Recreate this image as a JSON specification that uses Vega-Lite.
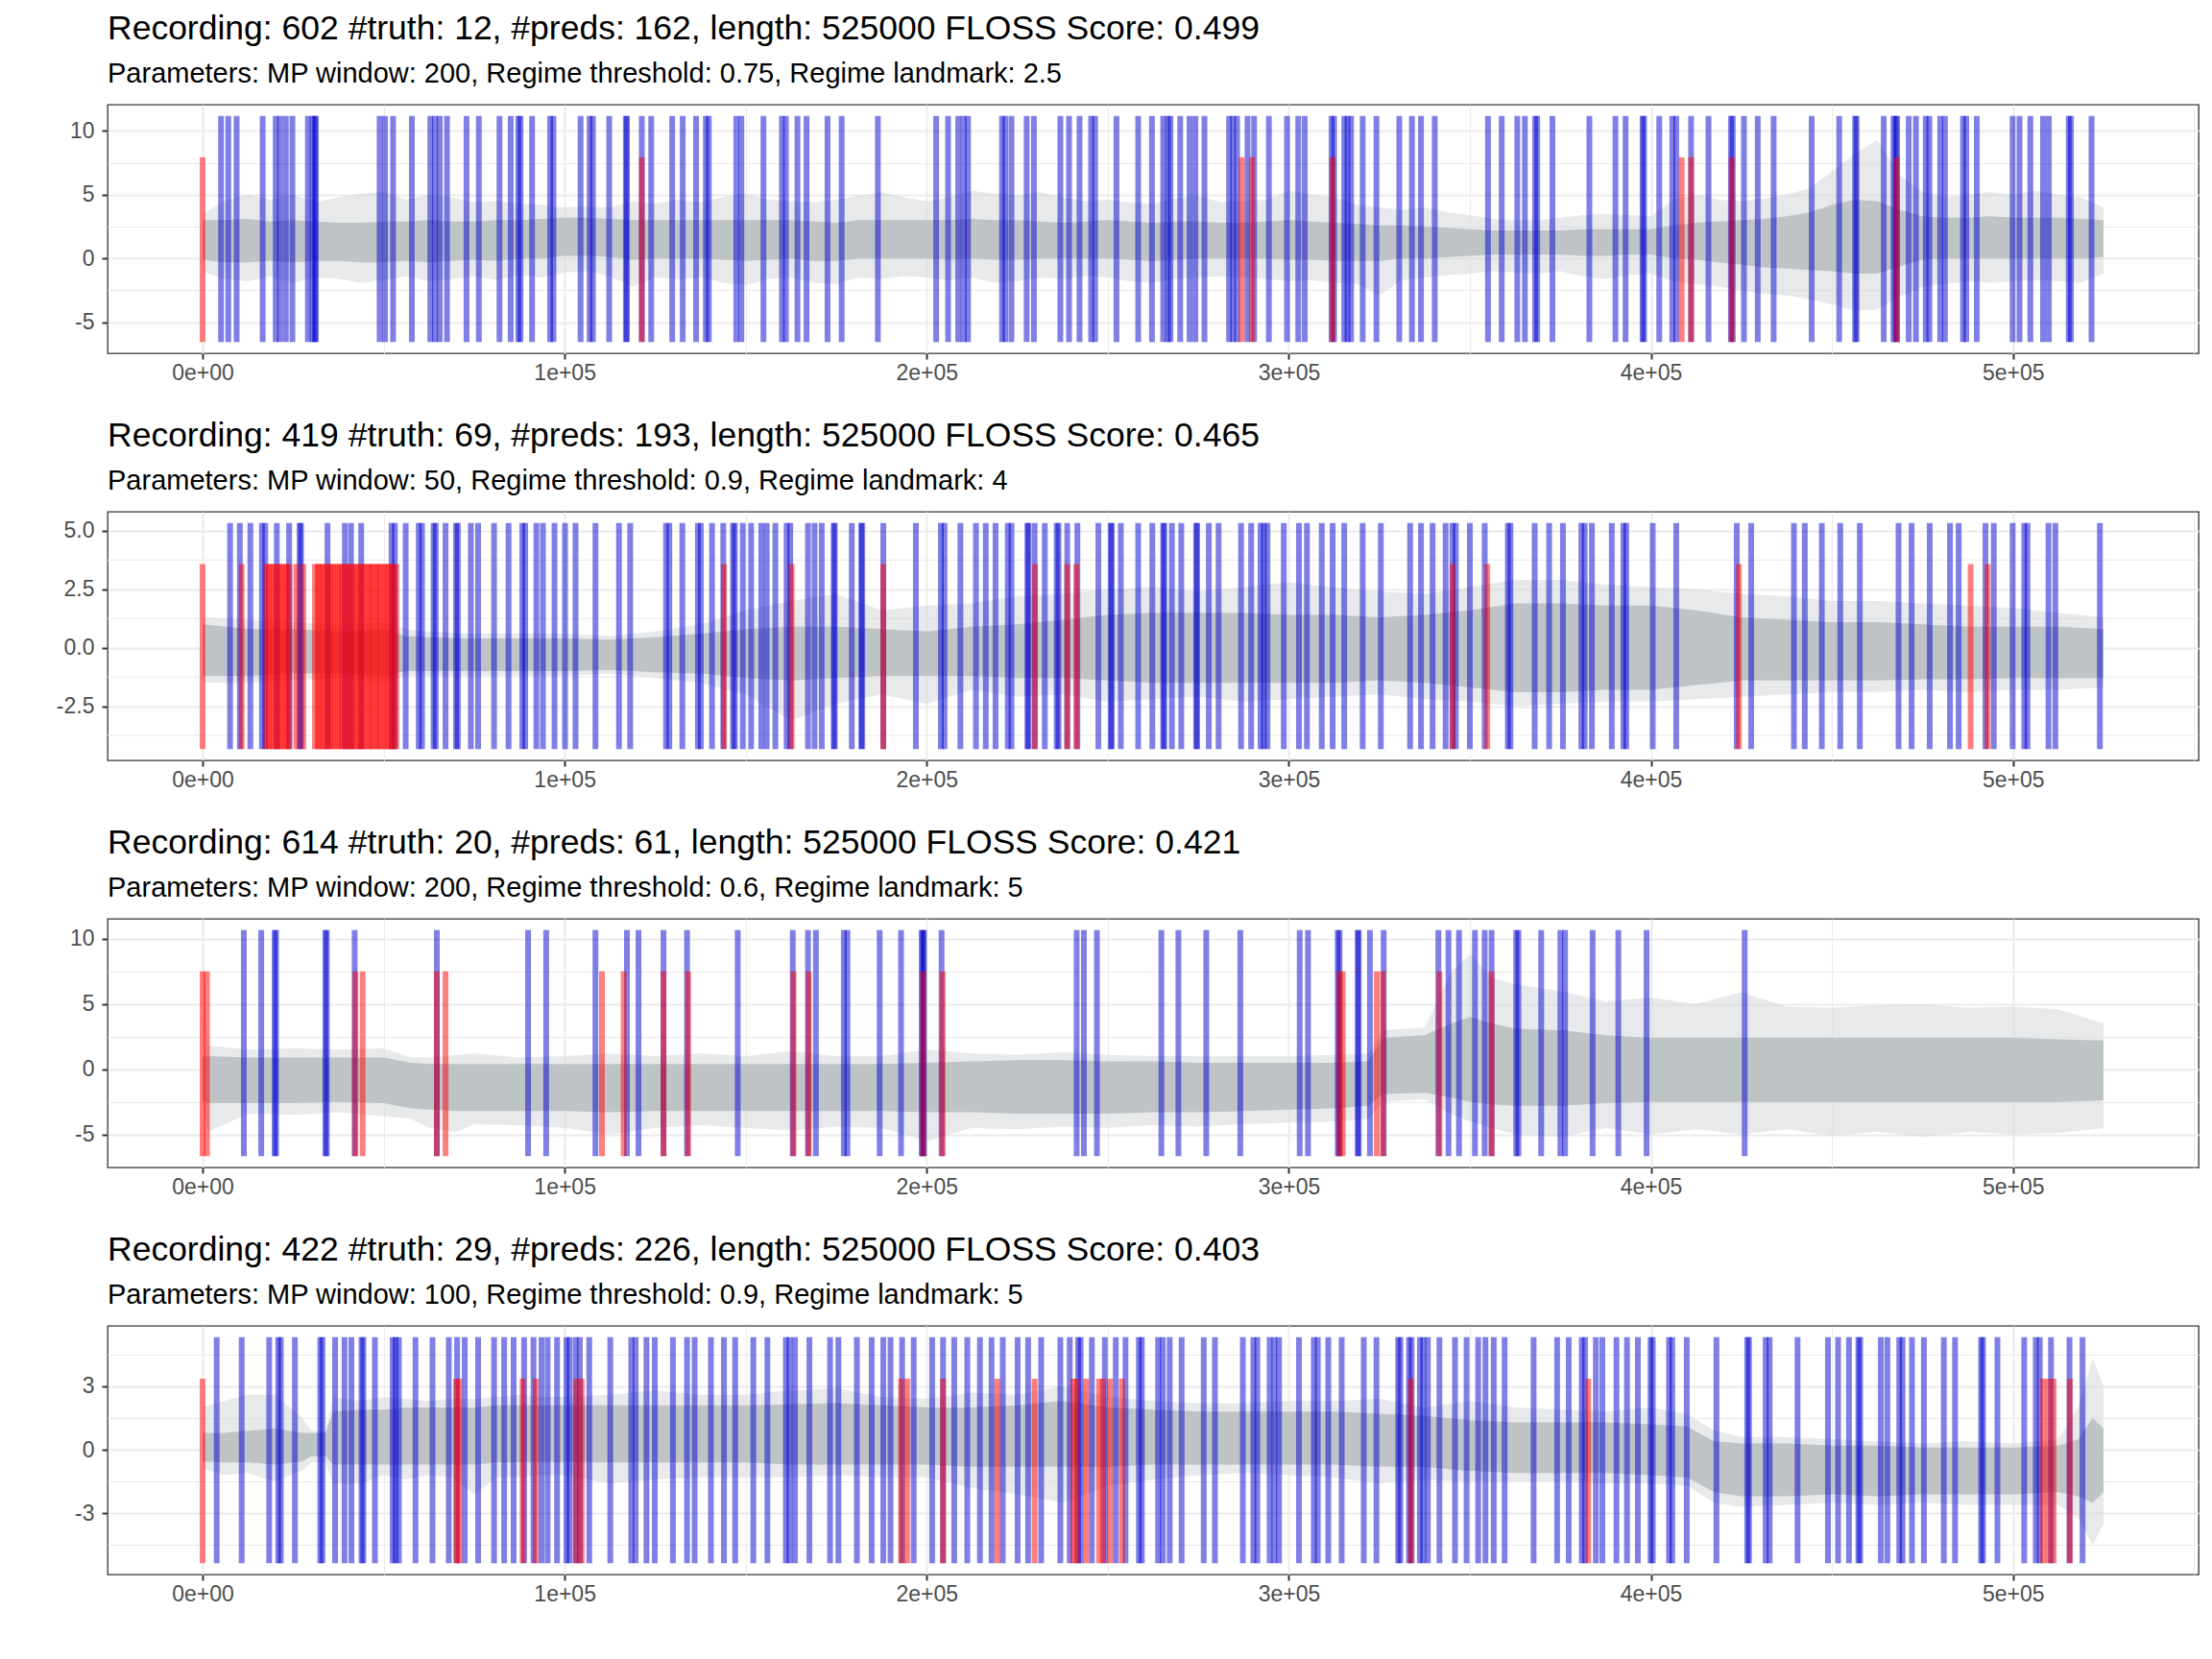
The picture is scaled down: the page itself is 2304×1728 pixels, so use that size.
{
"$schema": "https://vega.github.io/schema/vega-lite/v6.json",
"background": "white",
"padding": {"left": 57, "top": 11, "right": 14, "bottom": 10},
"spacing": 33,
"config": {
  "font": "Liberation Sans",
  "view": {"stroke": "#333333", "strokeWidth": 1.3},
  "axis": {"domain": false, "labelOverlap": false, "gridColor": "#EBEBEB", "tickColor": "#333333", "tickSize": 6, "tickWidth": 2, "labelColor": "#4D4D4D", "labelFont": "Liberation Sans", "labelFontSize": 23},
  "axisX": {"labelPadding": 3.5},
  "axisY": {"labelPadding": 8},
  "title": {"anchor": "start", "frame": "group", "font": "Liberation Sans", "fontSize": 35.5, "fontWeight": "normal", "color": "black", "subtitleFont": "Liberation Sans", "subtitleFontSize": 29, "subtitleColor": "black", "subtitlePadding": 14.5, "offset": 17.5}
},
"datasets": {
"minor2": [{"y":-3.75},{"y":-1.25},{"y":1.25},{"y":3.75}],
"sig1": [
{"x":0,"lo":-1.0,"ilo":-0.1,"ihi":3.0,"hi":3.5},{"x":6000,"lo":-1.6,"ilo":-0.3,"ihi":3.0,"hi":4.5},{"x":12500,"lo":-1.8,"ilo":-0.3,"ihi":3.1,"hi":5.0},{"x":18750,"lo":-1.4,"ilo":-0.2,"ihi":2.9,"hi":4.6},{"x":25000,"lo":-1.9,"ilo":-0.3,"ihi":3.0,"hi":5.0},{"x":31250,"lo":-1.5,"ilo":-0.2,"ihi":2.9,"hi":4.4},{"x":37500,"lo":-1.6,"ilo":-0.2,"ihi":2.8,"hi":4.8},{"x":43750,"lo":-1.9,"ilo":-0.3,"ihi":2.8,"hi":5.1},{"x":50000,"lo":-1.7,"ilo":-0.3,"ihi":2.9,"hi":5.2},{"x":56250,"lo":-1.4,"ilo":-0.2,"ihi":2.9,"hi":4.6},{"x":62500,"lo":-1.8,"ilo":-0.3,"ihi":3.0,"hi":5.0},{"x":68750,"lo":-1.6,"ilo":-0.2,"ihi":2.9,"hi":4.8},{"x":75000,"lo":-1.4,"ilo":-0.1,"ihi":2.9,"hi":4.4},{"x":81250,"lo":-1.7,"ilo":-0.2,"ihi":3.0,"hi":4.5},{"x":87500,"lo":-1.3,"ilo":0.0,"ihi":3.0,"hi":4.3},{"x":93750,"lo":-1.5,"ilo":0.0,"ihi":3.1,"hi":4.2},{"x":100000,"lo":-1.1,"ilo":0.2,"ihi":3.2,"hi":4.0},{"x":106250,"lo":-1.0,"ilo":0.2,"ihi":3.2,"hi":4.1},{"x":112500,"lo":-1.4,"ilo":0.1,"ihi":3.1,"hi":4.0},{"x":118750,"lo":-2.2,"ilo":-0.1,"ihi":3.0,"hi":4.5},{"x":125000,"lo":-1.5,"ilo":0.0,"ihi":3.0,"hi":4.3},{"x":131250,"lo":-1.6,"ilo":0.0,"ihi":3.0,"hi":4.6},{"x":137500,"lo":-1.5,"ilo":0.0,"ihi":3.0,"hi":4.4},{"x":143750,"lo":-1.9,"ilo":-0.1,"ihi":3.0,"hi":4.8},{"x":150000,"lo":-2.1,"ilo":-0.2,"ihi":3.0,"hi":5.1},{"x":156250,"lo":-1.6,"ilo":-0.1,"ihi":3.0,"hi":4.6},{"x":162500,"lo":-1.5,"ilo":0.0,"ihi":3.0,"hi":4.5},{"x":168750,"lo":-1.9,"ilo":-0.2,"ihi":2.9,"hi":4.4},{"x":175000,"lo":-2.0,"ilo":-0.2,"ihi":2.8,"hi":4.6},{"x":181250,"lo":-1.5,"ilo":0.0,"ihi":3.0,"hi":4.9},{"x":187500,"lo":-1.6,"ilo":0.0,"ihi":3.0,"hi":5.2},{"x":193750,"lo":-1.4,"ilo":0.0,"ihi":3.0,"hi":4.8},{"x":200000,"lo":-1.5,"ilo":0.0,"ihi":3.0,"hi":4.5},{"x":206250,"lo":-1.7,"ilo":-0.1,"ihi":3.0,"hi":4.8},{"x":212500,"lo":-1.5,"ilo":0.0,"ihi":3.1,"hi":5.3},{"x":218750,"lo":-1.9,"ilo":-0.1,"ihi":3.0,"hi":5.1},{"x":225000,"lo":-1.8,"ilo":-0.1,"ihi":3.0,"hi":4.9},{"x":231250,"lo":-1.5,"ilo":0.0,"ihi":2.9,"hi":5.2},{"x":237500,"lo":-1.6,"ilo":0.0,"ihi":2.8,"hi":4.8},{"x":243750,"lo":-1.4,"ilo":0.0,"ihi":2.9,"hi":4.5},{"x":250000,"lo":-1.5,"ilo":0.0,"ihi":3.0,"hi":4.6},{"x":256250,"lo":-1.8,"ilo":-0.1,"ihi":2.9,"hi":4.4},{"x":262500,"lo":-1.9,"ilo":-0.2,"ihi":2.8,"hi":4.3},{"x":268750,"lo":-1.6,"ilo":-0.1,"ihi":2.9,"hi":4.7},{"x":275000,"lo":-1.5,"ilo":0.0,"ihi":2.9,"hi":4.9},{"x":281250,"lo":-1.4,"ilo":0.0,"ihi":2.8,"hi":4.4},{"x":287500,"lo":-1.5,"ilo":0.0,"ihi":2.8,"hi":4.5},{"x":293750,"lo":-1.6,"ilo":0.0,"ihi":2.9,"hi":4.6},{"x":300000,"lo":-1.8,"ilo":-0.1,"ihi":3.0,"hi":5.3},{"x":306250,"lo":-1.7,"ilo":-0.1,"ihi":2.9,"hi":5.0},{"x":312500,"lo":-1.9,"ilo":-0.2,"ihi":2.8,"hi":4.8},{"x":318750,"lo":-2.0,"ilo":-0.2,"ihi":2.7,"hi":4.2},{"x":325000,"lo":-2.9,"ilo":-0.2,"ihi":2.6,"hi":4.0},{"x":331250,"lo":-1.7,"ilo":0.0,"ihi":2.6,"hi":3.8},{"x":337500,"lo":-1.5,"ilo":0.0,"ihi":2.5,"hi":4.0},{"x":343750,"lo":-1.3,"ilo":0.1,"ihi":2.4,"hi":3.6},{"x":350000,"lo":-1.2,"ilo":0.2,"ihi":2.3,"hi":3.4},{"x":356250,"lo":-1.0,"ilo":0.3,"ihi":2.2,"hi":3.1},{"x":362500,"lo":-1.1,"ilo":0.3,"ihi":2.2,"hi":3.0},{"x":368750,"lo":-1.2,"ilo":0.3,"ihi":2.2,"hi":3.0},{"x":375000,"lo":-1.0,"ilo":0.3,"ihi":2.2,"hi":3.2},{"x":381250,"lo":-1.4,"ilo":0.2,"ihi":2.3,"hi":3.4},{"x":387500,"lo":-1.6,"ilo":0.2,"ihi":2.3,"hi":3.5},{"x":393750,"lo":-1.3,"ilo":0.3,"ihi":2.3,"hi":3.4},{"x":400000,"lo":-1.2,"ilo":0.3,"ihi":2.3,"hi":3.3},{"x":406250,"lo":-1.8,"ilo":0.0,"ihi":2.6,"hi":4.6},{"x":412500,"lo":-2.0,"ilo":-0.1,"ihi":2.8,"hi":5.0},{"x":418750,"lo":-2.2,"ilo":-0.3,"ihi":2.9,"hi":4.6},{"x":425000,"lo":-2.5,"ilo":-0.5,"ihi":3.0,"hi":4.5},{"x":431250,"lo":-2.8,"ilo":-0.7,"ihi":3.1,"hi":4.7},{"x":437500,"lo":-2.9,"ilo":-0.8,"ihi":3.3,"hi":5.0},{"x":443750,"lo":-3.2,"ilo":-0.9,"ihi":3.6,"hi":5.5},{"x":450000,"lo":-3.6,"ilo":-1.0,"ihi":4.2,"hi":6.8},{"x":456250,"lo":-4.1,"ilo":-1.2,"ihi":4.6,"hi":8.2},{"x":462500,"lo":-4.0,"ilo":-1.2,"ihi":4.5,"hi":9.3},{"x":468750,"lo":-3.0,"ilo":-0.6,"ihi":3.8,"hi":6.5},{"x":475000,"lo":-2.2,"ilo":-0.1,"ihi":3.3,"hi":5.2},{"x":481250,"lo":-2.0,"ilo":0.0,"ihi":3.2,"hi":4.8},{"x":487500,"lo":-1.8,"ilo":0.0,"ihi":3.2,"hi":5.0},{"x":493750,"lo":-1.9,"ilo":0.0,"ihi":3.3,"hi":5.2},{"x":500000,"lo":-1.8,"ilo":0.0,"ihi":3.2,"hi":5.0},{"x":506250,"lo":-1.7,"ilo":0.0,"ihi":3.2,"hi":5.3},{"x":512500,"lo":-1.8,"ilo":0.0,"ihi":3.2,"hi":5.0},{"x":518750,"lo":-1.9,"ilo":0.0,"ihi":3.1,"hi":4.8},{"x":525000,"lo":-1.2,"ilo":0.1,"ihi":3.0,"hi":4.0}
],
"sig2": [
{"x":0,"lo":-1.5,"ilo":-1.2,"ihi":1.0,"hi":1.3},{"x":12500,"lo":-1.5,"ilo":-1.2,"ihi":0.8,"hi":1.2},{"x":25000,"lo":-1.4,"ilo":-1.1,"ihi":0.8,"hi":1.1},{"x":37500,"lo":-1.3,"ilo":-1.1,"ihi":0.7,"hi":1.0},{"x":50000,"lo":-1.5,"ilo":-1.2,"ihi":0.8,"hi":1.1},{"x":56000,"lo":-1.2,"ilo":-1.0,"ihi":0.5,"hi":0.8},{"x":62500,"lo":-1.2,"ilo":-1.0,"ihi":0.45,"hi":0.7},{"x":75000,"lo":-1.2,"ilo":-1.0,"ihi":0.4,"hi":0.6},{"x":87500,"lo":-1.2,"ilo":-1.0,"ihi":0.4,"hi":0.6},{"x":100000,"lo":-1.2,"ilo":-1.0,"ihi":0.4,"hi":0.6},{"x":112500,"lo":-1.1,"ilo":-0.95,"ihi":0.35,"hi":0.5},{"x":125000,"lo":-1.3,"ilo":-1.05,"ihi":0.45,"hi":0.7},{"x":137500,"lo":-1.5,"ilo":-1.1,"ihi":0.6,"hi":1.0},{"x":150000,"lo":-2.0,"ilo":-1.3,"ihi":0.8,"hi":1.6},{"x":162500,"lo":-3.1,"ilo":-1.4,"ihi":0.9,"hi":2.0},{"x":175000,"lo":-2.4,"ilo":-1.3,"ihi":0.9,"hi":2.3},{"x":187500,"lo":-2.0,"ilo":-1.2,"ihi":0.8,"hi":1.6},{"x":200000,"lo":-2.4,"ilo":-1.2,"ihi":0.7,"hi":1.8},{"x":212500,"lo":-1.8,"ilo":-1.2,"ihi":0.9,"hi":1.9},{"x":225000,"lo":-2.1,"ilo":-1.3,"ihi":1.0,"hi":2.2},{"x":237500,"lo":-2.0,"ilo":-1.3,"ihi":1.2,"hi":2.3},{"x":250000,"lo":-2.3,"ilo":-1.4,"ihi":1.4,"hi":2.5},{"x":262500,"lo":-2.2,"ilo":-1.5,"ihi":1.5,"hi":2.6},{"x":275000,"lo":-2.1,"ilo":-1.5,"ihi":1.5,"hi":2.4},{"x":287500,"lo":-2.3,"ilo":-1.5,"ihi":1.5,"hi":2.6},{"x":300000,"lo":-2.2,"ilo":-1.5,"ihi":1.4,"hi":2.8},{"x":312500,"lo":-2.1,"ilo":-1.5,"ihi":1.4,"hi":2.6},{"x":325000,"lo":-2.0,"ilo":-1.4,"ihi":1.3,"hi":2.4},{"x":337500,"lo":-2.2,"ilo":-1.5,"ihi":1.4,"hi":2.3},{"x":350000,"lo":-2.3,"ilo":-1.7,"ihi":1.6,"hi":2.6},{"x":362500,"lo":-2.5,"ilo":-1.9,"ihi":1.9,"hi":2.9},{"x":375000,"lo":-2.4,"ilo":-1.9,"ihi":1.9,"hi":2.9},{"x":387500,"lo":-2.3,"ilo":-1.8,"ihi":1.8,"hi":2.7},{"x":400000,"lo":-2.3,"ilo":-1.8,"ihi":1.8,"hi":2.6},{"x":412500,"lo":-2.2,"ilo":-1.6,"ihi":1.6,"hi":2.5},{"x":425000,"lo":-2.1,"ilo":-1.4,"ihi":1.3,"hi":2.3},{"x":437500,"lo":-2.0,"ilo":-1.4,"ihi":1.2,"hi":2.2},{"x":450000,"lo":-1.9,"ilo":-1.4,"ihi":1.1,"hi":2.0},{"x":462500,"lo":-1.9,"ilo":-1.4,"ihi":1.1,"hi":2.0},{"x":475000,"lo":-1.8,"ilo":-1.35,"ihi":1.0,"hi":1.9},{"x":487500,"lo":-1.9,"ilo":-1.35,"ihi":0.9,"hi":1.8},{"x":500000,"lo":-1.8,"ilo":-1.3,"ihi":0.9,"hi":1.7},{"x":512500,"lo":-1.8,"ilo":-1.3,"ihi":0.9,"hi":1.5},{"x":525000,"lo":-1.7,"ilo":-1.3,"ihi":0.8,"hi":1.3}
],
"sig3": [
{"x":0,"lo":-2.5,"ilo":-2.4,"ihi":0.9,"hi":9.0},{"x":1500,"lo":-4.8,"ilo":-2.6,"ihi":1.0,"hi":1.8},{"x":12500,"lo":-3.4,"ilo":-2.6,"ihi":0.9,"hi":1.5},{"x":25000,"lo":-3.5,"ilo":-2.6,"ihi":0.9,"hi":1.6},{"x":37500,"lo":-3.3,"ilo":-2.5,"ihi":0.9,"hi":1.5},{"x":50000,"lo":-3.6,"ilo":-2.6,"ihi":0.9,"hi":1.6},{"x":57500,"lo":-3.8,"ilo":-3.0,"ihi":0.5,"hi":0.9},{"x":62500,"lo":-4.5,"ilo":-3.1,"ihi":0.4,"hi":0.9},{"x":70000,"lo":-4.8,"ilo":-3.2,"ihi":0.4,"hi":1.1},{"x":75000,"lo":-4.2,"ilo":-3.2,"ihi":0.4,"hi":1.2},{"x":87500,"lo":-4.3,"ilo":-3.2,"ihi":0.4,"hi":0.9},{"x":100000,"lo":-4.5,"ilo":-3.2,"ihi":0.4,"hi":1.0},{"x":112500,"lo":-5.0,"ilo":-3.3,"ihi":0.4,"hi":1.2},{"x":125000,"lo":-4.5,"ilo":-3.2,"ihi":0.4,"hi":1.0},{"x":137500,"lo":-4.3,"ilo":-3.2,"ihi":0.4,"hi":1.2},{"x":150000,"lo":-4.5,"ilo":-3.2,"ihi":0.4,"hi":1.0},{"x":162500,"lo":-4.7,"ilo":-3.2,"ihi":0.4,"hi":1.4},{"x":175000,"lo":-4.4,"ilo":-3.2,"ihi":0.4,"hi":1.0},{"x":187500,"lo":-4.5,"ilo":-3.2,"ihi":0.4,"hi":1.0},{"x":200000,"lo":-5.5,"ilo":-3.3,"ihi":0.5,"hi":1.5},{"x":212500,"lo":-4.5,"ilo":-3.3,"ihi":0.6,"hi":1.2},{"x":225000,"lo":-4.6,"ilo":-3.4,"ihi":0.7,"hi":1.1},{"x":237500,"lo":-4.4,"ilo":-3.4,"ihi":0.7,"hi":1.3},{"x":250000,"lo":-4.5,"ilo":-3.4,"ihi":0.6,"hi":1.1},{"x":262500,"lo":-4.3,"ilo":-3.3,"ihi":0.6,"hi":1.0},{"x":275000,"lo":-4.4,"ilo":-3.3,"ihi":0.5,"hi":1.0},{"x":287500,"lo":-4.2,"ilo":-3.2,"ihi":0.5,"hi":1.0},{"x":300000,"lo":-4.1,"ilo":-3.1,"ihi":0.5,"hi":1.0},{"x":312500,"lo":-4.0,"ilo":-3.0,"ihi":0.5,"hi":1.1},{"x":322000,"lo":-3.8,"ilo":-2.8,"ihi":0.6,"hi":1.2},{"x":326000,"lo":-2.5,"ilo":-1.9,"ihi":2.4,"hi":3.0},{"x":337500,"lo":-2.3,"ilo":-1.8,"ihi":2.6,"hi":3.2},{"x":345000,"lo":-3.5,"ilo":-2.2,"ihi":3.5,"hi":7.5},{"x":350000,"lo":-4.0,"ilo":-2.5,"ihi":4.0,"hi":8.8},{"x":356000,"lo":-4.5,"ilo":-2.7,"ihi":3.5,"hi":7.0},{"x":362500,"lo":-5.0,"ilo":-2.8,"ihi":3.1,"hi":6.5},{"x":375000,"lo":-5.2,"ilo":-2.8,"ihi":3.0,"hi":6.0},{"x":387500,"lo":-4.5,"ilo":-2.6,"ihi":2.6,"hi":5.2},{"x":400000,"lo":-5.0,"ilo":-2.5,"ihi":2.4,"hi":5.5},{"x":412500,"lo":-4.6,"ilo":-2.5,"ihi":2.4,"hi":5.0},{"x":425000,"lo":-5.0,"ilo":-2.5,"ihi":2.4,"hi":5.9},{"x":437500,"lo":-4.6,"ilo":-2.5,"ihi":2.4,"hi":4.8},{"x":450000,"lo":-5.1,"ilo":-2.5,"ihi":2.4,"hi":4.7},{"x":462500,"lo":-4.8,"ilo":-2.5,"ihi":2.4,"hi":4.9},{"x":475000,"lo":-5.2,"ilo":-2.5,"ihi":2.4,"hi":5.0},{"x":487500,"lo":-4.8,"ilo":-2.5,"ihi":2.4,"hi":4.7},{"x":500000,"lo":-5.0,"ilo":-2.5,"ihi":2.4,"hi":4.8},{"x":512500,"lo":-4.9,"ilo":-2.5,"ihi":2.3,"hi":4.6},{"x":525000,"lo":-4.5,"ilo":-2.4,"ihi":2.2,"hi":3.5}
],
"sig4": [
{"x":0,"lo":-0.9,"ilo":-0.55,"ihi":0.8,"hi":2.0},{"x":6000,"lo":-1.2,"ilo":-0.6,"ihi":0.8,"hi":2.3},{"x":12500,"lo":-1.1,"ilo":-0.6,"ihi":0.9,"hi":2.6},{"x":20000,"lo":-1.5,"ilo":-0.7,"ihi":1.0,"hi":2.6},{"x":27500,"lo":-1.0,"ilo":-0.55,"ihi":0.8,"hi":1.5},{"x":30000,"lo":-0.6,"ilo":-0.3,"ihi":0.8,"hi":0.9},{"x":34000,"lo":-0.6,"ilo":-0.3,"ihi":0.8,"hi":0.9},{"x":36000,"lo":-1.6,"ilo":-0.7,"ihi":1.8,"hi":2.5},{"x":43750,"lo":-1.6,"ilo":-0.7,"ihi":1.9,"hi":2.3},{"x":50000,"lo":-1.2,"ilo":-0.7,"ihi":1.9,"hi":2.5},{"x":56250,"lo":-1.4,"ilo":-0.7,"ihi":2.0,"hi":2.4},{"x":62500,"lo":-1.2,"ilo":-0.7,"ihi":2.0,"hi":2.3},{"x":68750,"lo":-1.3,"ilo":-0.7,"ihi":2.0,"hi":2.4},{"x":75000,"lo":-2.1,"ilo":-0.7,"ihi":2.0,"hi":2.4},{"x":81250,"lo":-1.3,"ilo":-0.6,"ihi":2.1,"hi":2.5},{"x":87500,"lo":-1.3,"ilo":-0.6,"ihi":2.1,"hi":2.6},{"x":93750,"lo":-1.2,"ilo":-0.6,"ihi":2.1,"hi":2.5},{"x":100000,"lo":-1.2,"ilo":-0.6,"ihi":2.1,"hi":2.5},{"x":112500,"lo":-1.6,"ilo":-0.6,"ihi":2.1,"hi":2.6},{"x":125000,"lo":-1.4,"ilo":-0.6,"ihi":2.1,"hi":2.8},{"x":137500,"lo":-1.3,"ilo":-0.6,"ihi":2.1,"hi":2.6},{"x":150000,"lo":-1.3,"ilo":-0.6,"ihi":2.1,"hi":2.6},{"x":162500,"lo":-1.3,"ilo":-0.7,"ihi":2.15,"hi":2.8},{"x":175000,"lo":-1.2,"ilo":-0.7,"ihi":2.2,"hi":2.9},{"x":187500,"lo":-1.3,"ilo":-0.7,"ihi":2.1,"hi":2.5},{"x":200000,"lo":-1.3,"ilo":-0.7,"ihi":2.0,"hi":2.4},{"x":212500,"lo":-1.8,"ilo":-0.8,"ihi":2.0,"hi":2.7},{"x":225000,"lo":-2.1,"ilo":-0.8,"ihi":2.1,"hi":2.6},{"x":237500,"lo":-2.5,"ilo":-0.8,"ihi":2.3,"hi":3.0},{"x":250000,"lo":-1.7,"ilo":-0.8,"ihi":2.0,"hi":2.5},{"x":262500,"lo":-1.4,"ilo":-0.7,"ihi":1.9,"hi":2.3},{"x":275000,"lo":-1.2,"ilo":-0.7,"ihi":1.8,"hi":2.2},{"x":287500,"lo":-1.1,"ilo":-0.7,"ihi":1.8,"hi":2.2},{"x":300000,"lo":-1.2,"ilo":-0.7,"ihi":1.8,"hi":2.3},{"x":312500,"lo":-1.3,"ilo":-0.7,"ihi":1.8,"hi":2.3},{"x":325000,"lo":-1.6,"ilo":-0.8,"ihi":1.7,"hi":2.4},{"x":337500,"lo":-1.4,"ilo":-0.8,"ihi":1.6,"hi":2.0},{"x":350000,"lo":-1.5,"ilo":-1.0,"ihi":1.4,"hi":2.3},{"x":362500,"lo":-1.5,"ilo":-1.1,"ihi":1.3,"hi":2.0},{"x":375000,"lo":-1.5,"ilo":-1.1,"ihi":1.3,"hi":1.9},{"x":387500,"lo":-1.6,"ilo":-1.1,"ihi":1.3,"hi":1.8},{"x":400000,"lo":-1.6,"ilo":-1.2,"ihi":1.2,"hi":2.0},{"x":410000,"lo":-1.7,"ilo":-1.3,"ihi":1.1,"hi":1.7},{"x":417500,"lo":-2.5,"ilo":-2.0,"ihi":0.4,"hi":0.9},{"x":425000,"lo":-2.7,"ilo":-2.2,"ihi":0.3,"hi":0.6},{"x":437500,"lo":-2.6,"ilo":-2.2,"ihi":0.3,"hi":0.6},{"x":450000,"lo":-2.5,"ilo":-2.1,"ihi":0.2,"hi":0.5},{"x":462500,"lo":-2.6,"ilo":-2.2,"ihi":0.2,"hi":0.4},{"x":475000,"lo":-2.5,"ilo":-2.1,"ihi":0.1,"hi":0.3},{"x":487500,"lo":-2.6,"ilo":-2.1,"ihi":0.1,"hi":0.4},{"x":500000,"lo":-2.6,"ilo":-2.1,"ihi":0.1,"hi":0.3},{"x":512500,"lo":-2.6,"ilo":-2.0,"ihi":0.2,"hi":0.5},{"x":518000,"lo":-3.2,"ilo":-2.2,"ihi":0.5,"hi":2.0},{"x":522000,"lo":-4.5,"ilo":-2.5,"ihi":1.5,"hi":4.3},{"x":525000,"lo":-3.5,"ilo":-2.0,"ihi":1.0,"hi":3.0}
],
"pred1": [{"x":5100},{"x":7100},{"x":9400},{"x":16600},{"x":20200},{"x":21400},{"x":23000},{"x":24800},{"x":29100},{"x":30400},{"x":31000},{"x":31300},{"x":48900},{"x":50400},{"x":52600},{"x":57800},{"x":62900},{"x":64200},{"x":65500},{"x":67500},{"x":72900},{"x":76300},{"x":82000},{"x":85100},{"x":87200},{"x":87800},{"x":91000},{"x":96000},{"x":96900},{"x":104400},{"x":106900},{"x":107800},{"x":112300},{"x":116900},{"x":117200},{"x":121300},{"x":123900},{"x":129700},{"x":132600},{"x":136300},{"x":139000},{"x":139800},{"x":147400},{"x":148800},{"x":154900},{"x":160000},{"x":161100},{"x":164300},{"x":166800},{"x":172600},{"x":176500},{"x":186500},{"x":202600},{"x":205900},{"x":208700},{"x":210200},{"x":211400},{"x":220800},{"x":221700},{"x":223400},{"x":227600},{"x":229600},{"x":236900},{"x":239300},{"x":242200},{"x":245400},{"x":246500},{"x":252400},{"x":258400},{"x":262200},{"x":265300},{"x":266600},{"x":267300},{"x":270000},{"x":272600},{"x":274200},{"x":276700},{"x":283500},{"x":284600},{"x":285700},{"x":288600},{"x":290400},{"x":294500},{"x":299500},{"x":302600},{"x":304400},{"x":311800},{"x":312500},{"x":315300},{"x":316200},{"x":317200},{"x":320400},{"x":324200},{"x":330500},{"x":334000},{"x":336500},{"x":340300},{"x":355000},{"x":358800},{"x":363100},{"x":365200},{"x":368000},{"x":368600},{"x":372800},{"x":383000},{"x":390200},{"x":393000},{"x":397700},{"x":398100},{"x":402300},{"x":405900},{"x":407000},{"x":411100},{"x":415900},{"x":422100},{"x":422600},{"x":425700},{"x":429500},{"x":433900},{"x":444400},{"x":452000},{"x":456400},{"x":456800},{"x":464300},{"x":467000},{"x":467600},{"x":468000},{"x":471200},{"x":473200},{"x":475900},{"x":476900},{"x":479900},{"x":481200},{"x":486200},{"x":487100},{"x":490000},{"x":499900},{"x":501800},{"x":504800},{"x":508300},{"x":509900},{"x":515400},{"x":516000},{"x":521700}],
"truth1": [{"x":0},{"x":121300},{"x":287000},{"x":289800},{"x":312100},{"x":408500},{"x":411100},{"x":422300},{"x":467900}],
"pred2": [{"x":7600},{"x":10300},{"x":13200},{"x":16400},{"x":17300},{"x":20500},{"x":23900},{"x":26800},{"x":27200},{"x":34500},{"x":39300},{"x":41000},{"x":43800},{"x":52200},{"x":53100},{"x":56100},{"x":59700},{"x":60600},{"x":63800},{"x":64400},{"x":67100},{"x":70000},{"x":70500},{"x":74100},{"x":76100},{"x":80500},{"x":84500},{"x":88300},{"x":89100},{"x":92200},{"x":94000},{"x":97200},{"x":100100},{"x":103000},{"x":108500},{"x":115000},{"x":118100},{"x":128000},{"x":128900},{"x":132500},{"x":136800},{"x":137600},{"x":140700},{"x":143800},{"x":146500},{"x":147000},{"x":149200},{"x":151500},{"x":154300},{"x":155800},{"x":158200},{"x":161300},{"x":162300},{"x":167200},{"x":169000},{"x":171000},{"x":174300},{"x":174600},{"x":179300},{"x":181900},{"x":182200},{"x":188000},{"x":197000},{"x":203900},{"x":204900},{"x":209300},{"x":213600},{"x":216300},{"x":219000},{"x":222400},{"x":223400},{"x":227800},{"x":228100},{"x":229800},{"x":232600},{"x":235900},{"x":236400},{"x":238800},{"x":241600},{"x":247400},{"x":250800},{"x":251100},{"x":253600},{"x":258400},{"x":262300},{"x":265300},{"x":265600},{"x":267700},{"x":270300},{"x":274400},{"x":274700},{"x":277900},{"x":280600},{"x":286800},{"x":289600},{"x":292200},{"x":293100},{"x":294100},{"x":298600},{"x":302800},{"x":305000},{"x":309100},{"x":312100},{"x":315300},{"x":320400},{"x":325400},{"x":333500},{"x":336500},{"x":339700},{"x":343300},{"x":345200},{"x":346100},{"x":350000},{"x":354100},{"x":360500},{"x":361200},{"x":367900},{"x":371900},{"x":375700},{"x":380800},{"x":381700},{"x":383700},{"x":389200},{"x":392400},{"x":393200},{"x":400500},{"x":407000},{"x":423700},{"x":427700},{"x":439500},{"x":442500},{"x":447200},{"x":452300},{"x":457700},{"x":468400},{"x":472000},{"x":477000},{"x":482600},{"x":485000},{"x":492400},{"x":494700},{"x":499900},{"x":503100},{"x":504000},{"x":509800},{"x":511700},{"x":524000}],
"truth2": [{"x":0},{"x":10800},{"x":17600},{"x":18300},{"x":19100},{"x":19700},{"x":20600},{"x":21200},{"x":21900},{"x":22700},{"x":23300},{"x":24000},{"x":25900},{"x":27800},{"x":31000},{"x":31800},{"x":32300},{"x":33100},{"x":33700},{"x":34600},{"x":35200},{"x":35900},{"x":36500},{"x":37400},{"x":38000},{"x":38600},{"x":39500},{"x":40100},{"x":40700},{"x":41500},{"x":42200},{"x":42800},{"x":43600},{"x":44300},{"x":44900},{"x":45800},{"x":46400},{"x":47000},{"x":47900},{"x":48500},{"x":49100},{"x":50000},{"x":50600},{"x":51300},{"x":52100},{"x":52700},{"x":53500},{"x":144000},{"x":162700},{"x":188000},{"x":229900},{"x":238800},{"x":241300},{"x":345200},{"x":354800},{"x":424300},{"x":488300},{"x":493000}],
"pred3": [{"x":11400},{"x":16200},{"x":19900},{"x":20300},{"x":33900},{"x":34300},{"x":42000},{"x":64700},{"x":89900},{"x":94900},{"x":108500},{"x":117200},{"x":120400},{"x":127300},{"x":133800},{"x":147800},{"x":163000},{"x":167200},{"x":169400},{"x":177100},{"x":178100},{"x":187000},{"x":192900},{"x":198600},{"x":199000},{"x":199200},{"x":204100},{"x":241400},{"x":243400},{"x":247000},{"x":264800},{"x":269500},{"x":277200},{"x":286600},{"x":303000},{"x":305300},{"x":313500},{"x":314000},{"x":319000},{"x":319300},{"x":322400},{"x":326200},{"x":341300},{"x":344100},{"x":347000},{"x":351400},{"x":354100},{"x":356000},{"x":362800},{"x":363400},{"x":369700},{"x":375000},{"x":376300},{"x":383900},{"x":391000},{"x":398800},{"x":425900}],
"truth3": [{"x":0},{"x":1200},{"x":42200},{"x":44200},{"x":64700},{"x":67100},{"x":110300},{"x":116300},{"x":127300},{"x":134100},{"x":163200},{"x":167400},{"x":199000},{"x":204400},{"x":314000},{"x":314900},{"x":324300},{"x":326000},{"x":341600},{"x":356000}],
"pred4": [{"x":3900},{"x":10800},{"x":18400},{"x":20900},{"x":21600},{"x":25500},{"x":32500},{"x":33100},{"x":36600},{"x":39200},{"x":41100},{"x":43900},{"x":44400},{"x":47600},{"x":52500},{"x":53300},{"x":54200},{"x":58800},{"x":63500},{"x":68000},{"x":70300},{"x":72400},{"x":76100},{"x":80500},{"x":83300},{"x":85900},{"x":88800},{"x":91400},{"x":93600},{"x":95300},{"x":97900},{"x":100500},{"x":101300},{"x":103000},{"x":104200},{"x":106800},{"x":112600},{"x":118400},{"x":119600},{"x":122600},{"x":124900},{"x":129900},{"x":133800},{"x":135900},{"x":140400},{"x":144000},{"x":147100},{"x":152100},{"x":156000},{"x":161100},{"x":162100},{"x":163600},{"x":167600},{"x":173300},{"x":175600},{"x":180700},{"x":184800},{"x":188000},{"x":190000},{"x":193200},{"x":196400},{"x":201500},{"x":204500},{"x":207600},{"x":211200},{"x":214700},{"x":217900},{"x":221000},{"x":225100},{"x":228000},{"x":231600},{"x":236900},{"x":239500},{"x":241800},{"x":242500},{"x":245600},{"x":249200},{"x":252200},{"x":254900},{"x":258600},{"x":259400},{"x":263900},{"x":265200},{"x":267100},{"x":270400},{"x":276500},{"x":279600},{"x":287300},{"x":290200},{"x":291300},{"x":294700},{"x":296000},{"x":297300},{"x":302800},{"x":306900},{"x":308000},{"x":310900},{"x":314600},{"x":320700},{"x":324200},{"x":330200},{"x":330800},{"x":333200},{"x":333900},{"x":336200},{"x":337100},{"x":338400},{"x":341600},{"x":345900},{"x":349100},{"x":352300},{"x":354300},{"x":356600},{"x":359600},{"x":367600},{"x":374100},{"x":377300},{"x":380900},{"x":381800},{"x":384800},{"x":386600},{"x":390500},{"x":393400},{"x":396400},{"x":399900},{"x":400500},{"x":405000},{"x":405900},{"x":409900},{"x":418100},{"x":426600},{"x":427100},{"x":431700},{"x":432800},{"x":440500},{"x":448900},{"x":451700},{"x":454700},{"x":457300},{"x":457800},{"x":463500},{"x":465300},{"x":468600},{"x":469500},{"x":472100},{"x":475400},{"x":480900},{"x":484000},{"x":491200},{"x":491700},{"x":495700},{"x":503100},{"x":506300},{"x":507400},{"x":510500},{"x":515600},{"x":519200}],
"truth4": [{"x":0},{"x":70000},{"x":70900},{"x":88400},{"x":92000},{"x":103200},{"x":104700},{"x":192900},{"x":194600},{"x":204500},{"x":219500},{"x":229800},{"x":240500},{"x":241400},{"x":244000},{"x":247600},{"x":248700},{"x":250600},{"x":253900},{"x":333700},{"x":382700},{"x":508300},{"x":509800},{"x":511200},{"x":515700}]
},
"vconcat": [
{
 "title": {"text": "Recording: 602 #truth: 12, #preds: 162, length: 525000 FLOSS Score: 0.499", "subtitle": "Parameters: MP window: 200, Regime threshold: 0.75, Regime landmark: 2.5"},
 "width": 2178, "height": 259,
 "layer": [
  {"data": {"name": "sig1"}, "mark": {"type": "area", "color": "#D3D7D9", "opacity": 0.55},
   "encoding": {
    "x": {"field": "x", "type": "quantitative", "title": null, "scale": {"domain": [-26250, 551250], "nice": false, "zero": false},
      "axis": {"values": [0,50000,100000,150000,200000,250000,300000,350000,400000,450000,500000,550000], "labelExpr": "datum.value % 100000 == 0 ? (datum.value == 0 ? '0e+00' : (datum.value/100000) + 'e+05') : ''", "tickOpacity": {"condition": {"test": "datum.value % 100000 != 0", "value": 0}, "value": 1}, "gridWidth": {"condition": {"test": "datum.value % 100000 != 0", "value": 1}, "value": 2}}},
    "y": {"field": "lo", "type": "quantitative", "title": null, "scale": {"domain": [-7.44, 12.06], "nice": false, "zero": false},
      "axis": {"values": [-5,-2.5,0,2.5,5,7.5,10], "labelExpr": "datum.value == 10 ? '10' : datum.value == 5 ? '5' : datum.value == 0 ? '0' : datum.value == -5 ? '-5' : ''", "tickOpacity": {"condition": {"test": "datum.value % 5 != 0", "value": 0}, "value": 1}, "gridWidth": {"condition": {"test": "datum.value % 5 != 0", "value": 1}, "value": 2}}},
    "y2": {"field": "hi"}}},
  {"data": {"name": "sig1"}, "mark": {"type": "area", "color": "#BEC3C6"},
   "encoding": {"x": {"field": "x", "type": "quantitative", "title": null}, "y": {"field": "ilo", "type": "quantitative", "title": null}, "y2": {"field": "ihi"}}},
  {"data": {"name": "pred1"}, "mark": {"type": "rule", "color": "#0000CD", "opacity": 0.5, "strokeWidth": 6},
   "encoding": {"x": {"field": "x", "type": "quantitative", "title": null}, "y": {"datum": -6.55, "type": "quantitative", "title": null}, "y2": {"datum": 11.17}}},
  {"data": {"name": "truth1"}, "mark": {"type": "rule", "color": "#FF0000", "opacity": 0.5, "strokeWidth": 6},
   "encoding": {"x": {"field": "x", "type": "quantitative", "title": null}, "y": {"datum": -6.55, "type": "quantitative", "title": null}, "y2": {"datum": 7.94}}}
 ]
},
{
 "title": {"text": "Recording: 419 #truth: 69, #preds: 193, length: 525000 FLOSS Score: 0.465", "subtitle": "Parameters: MP window: 50, Regime threshold: 0.9, Regime landmark: 4"},
 "width": 2178, "height": 259,
 "layer": [
  {"data": {"name": "minor2"}, "mark": {"type": "rule", "color": "#EBEBEB", "strokeWidth": 1},
   "encoding": {"y": {"field": "y", "type": "quantitative", "title": null}}},
  {"data": {"name": "sig2"}, "mark": {"type": "area", "color": "#D3D7D9", "opacity": 0.55},
   "encoding": {
    "x": {"field": "x", "type": "quantitative", "title": null, "scale": {"domain": [-26250, 551250], "nice": false, "zero": false},
      "axis": {"values": [0,50000,100000,150000,200000,250000,300000,350000,400000,450000,500000,550000], "labelExpr": "datum.value % 100000 == 0 ? (datum.value == 0 ? '0e+00' : (datum.value/100000) + 'e+05') : ''", "tickOpacity": {"condition": {"test": "datum.value % 100000 != 0", "value": 0}, "value": 1}, "gridWidth": {"condition": {"test": "datum.value % 100000 != 0", "value": 1}, "value": 2}}},
    "y": {"field": "lo", "type": "quantitative", "title": null, "scale": {"domain": [-4.82, 5.82], "nice": false, "zero": false},
      "axis": {"values": [-2.5,0,2.5,5], "labelExpr": "datum.value == 5 ? '5.0' : datum.value == 2.5 ? '2.5' : datum.value == 0 ? '0.0' : '-2.5'", "gridWidth": 2}},
    "y2": {"field": "hi"}}},
  {"data": {"name": "sig2"}, "mark": {"type": "area", "color": "#BEC3C6"},
   "encoding": {"x": {"field": "x", "type": "quantitative", "title": null}, "y": {"field": "ilo", "type": "quantitative", "title": null}, "y2": {"field": "ihi"}}},
  {"data": {"name": "pred2"}, "mark": {"type": "rule", "color": "#0000CD", "opacity": 0.5, "strokeWidth": 6},
   "encoding": {"x": {"field": "x", "type": "quantitative", "title": null}, "y": {"datum": -4.34, "type": "quantitative", "title": null}, "y2": {"datum": 5.34}}},
  {"data": {"name": "truth2"}, "mark": {"type": "rule", "color": "#FF0000", "opacity": 0.5, "strokeWidth": 6},
   "encoding": {"x": {"field": "x", "type": "quantitative", "title": null}, "y": {"datum": -4.34, "type": "quantitative", "title": null}, "y2": {"datum": 3.58}}}
 ]
},
{
 "title": {"text": "Recording: 614 #truth: 20, #preds: 61, length: 525000 FLOSS Score: 0.421", "subtitle": "Parameters: MP window: 200, Regime threshold: 0.6, Regime landmark: 5"},
 "width": 2178, "height": 259,
 "layer": [
  {"data": {"name": "sig3"}, "mark": {"type": "area", "color": "#D3D7D9", "opacity": 0.55},
   "encoding": {
    "x": {"field": "x", "type": "quantitative", "title": null, "scale": {"domain": [-26250, 551250], "nice": false, "zero": false},
      "axis": {"values": [0,50000,100000,150000,200000,250000,300000,350000,400000,450000,500000,550000], "labelExpr": "datum.value % 100000 == 0 ? (datum.value == 0 ? '0e+00' : (datum.value/100000) + 'e+05') : ''", "tickOpacity": {"condition": {"test": "datum.value % 100000 != 0", "value": 0}, "value": 1}, "gridWidth": {"condition": {"test": "datum.value % 100000 != 0", "value": 1}, "value": 2}}},
    "y": {"field": "lo", "type": "quantitative", "title": null, "scale": {"domain": [-7.53, 11.53], "nice": false, "zero": false},
      "axis": {"values": [-5,-2.5,0,2.5,5,7.5,10], "labelExpr": "datum.value == 10 ? '10' : datum.value == 5 ? '5' : datum.value == 0 ? '0' : datum.value == -5 ? '-5' : ''", "tickOpacity": {"condition": {"test": "datum.value % 5 != 0", "value": 0}, "value": 1}, "gridWidth": {"condition": {"test": "datum.value % 5 != 0", "value": 1}, "value": 2}}},
    "y2": {"field": "hi"}}},
  {"data": {"name": "sig3"}, "mark": {"type": "area", "color": "#BEC3C6"},
   "encoding": {"x": {"field": "x", "type": "quantitative", "title": null}, "y": {"field": "ilo", "type": "quantitative", "title": null}, "y2": {"field": "ihi"}}},
  {"data": {"name": "pred3"}, "mark": {"type": "rule", "color": "#0000CD", "opacity": 0.5, "strokeWidth": 6},
   "encoding": {"x": {"field": "x", "type": "quantitative", "title": null}, "y": {"datum": -6.66, "type": "quantitative", "title": null}, "y2": {"datum": 10.66}}},
  {"data": {"name": "truth3"}, "mark": {"type": "rule", "color": "#FF0000", "opacity": 0.5, "strokeWidth": 6},
   "encoding": {"x": {"field": "x", "type": "quantitative", "title": null}, "y": {"datum": -6.66, "type": "quantitative", "title": null}, "y2": {"datum": 7.51}}}
 ]
},
{
 "title": {"text": "Recording: 422 #truth: 29, #preds: 226, length: 525000 FLOSS Score: 0.403", "subtitle": "Parameters: MP window: 100, Regime threshold: 0.9, Regime landmark: 5"},
 "width": 2178, "height": 259,
 "layer": [
  {"data": {"name": "sig4"}, "mark": {"type": "area", "color": "#D3D7D9", "opacity": 0.55},
   "encoding": {
    "x": {"field": "x", "type": "quantitative", "title": null, "scale": {"domain": [-26250, 551250], "nice": false, "zero": false},
      "axis": {"values": [0,50000,100000,150000,200000,250000,300000,350000,400000,450000,500000,550000], "labelExpr": "datum.value % 100000 == 0 ? (datum.value == 0 ? '0e+00' : (datum.value/100000) + 'e+05') : ''", "tickOpacity": {"condition": {"test": "datum.value % 100000 != 0", "value": 0}, "value": 1}, "gridWidth": {"condition": {"test": "datum.value % 100000 != 0", "value": 1}, "value": 2}}},
    "y": {"field": "lo", "type": "quantitative", "title": null, "scale": {"domain": [-5.89, 5.85], "nice": false, "zero": false},
      "axis": {"values": [-4.5,-3,-1.5,0,1.5,3,4.5], "labelExpr": "datum.value == 3 ? '3' : datum.value == 0 ? '0' : datum.value == -3 ? '-3' : ''", "tickOpacity": {"condition": {"test": "datum.value % 3 != 0", "value": 0}, "value": 1}, "gridWidth": {"condition": {"test": "datum.value % 3 != 0", "value": 1}, "value": 2}}},
    "y2": {"field": "hi"}}},
  {"data": {"name": "sig4"}, "mark": {"type": "area", "color": "#BEC3C6"},
   "encoding": {"x": {"field": "x", "type": "quantitative", "title": null}, "y": {"field": "ilo", "type": "quantitative", "title": null}, "y2": {"field": "ihi"}}},
  {"data": {"name": "pred4"}, "mark": {"type": "rule", "color": "#0000CD", "opacity": 0.5, "strokeWidth": 6},
   "encoding": {"x": {"field": "x", "type": "quantitative", "title": null}, "y": {"datum": -5.36, "type": "quantitative", "title": null}, "y2": {"datum": 5.32}}},
  {"data": {"name": "truth4"}, "mark": {"type": "rule", "color": "#FF0000", "opacity": 0.5, "strokeWidth": 6},
   "encoding": {"x": {"field": "x", "type": "quantitative", "title": null}, "y": {"datum": -5.36, "type": "quantitative", "title": null}, "y2": {"datum": 3.36}}}
 ]
}
]
}
